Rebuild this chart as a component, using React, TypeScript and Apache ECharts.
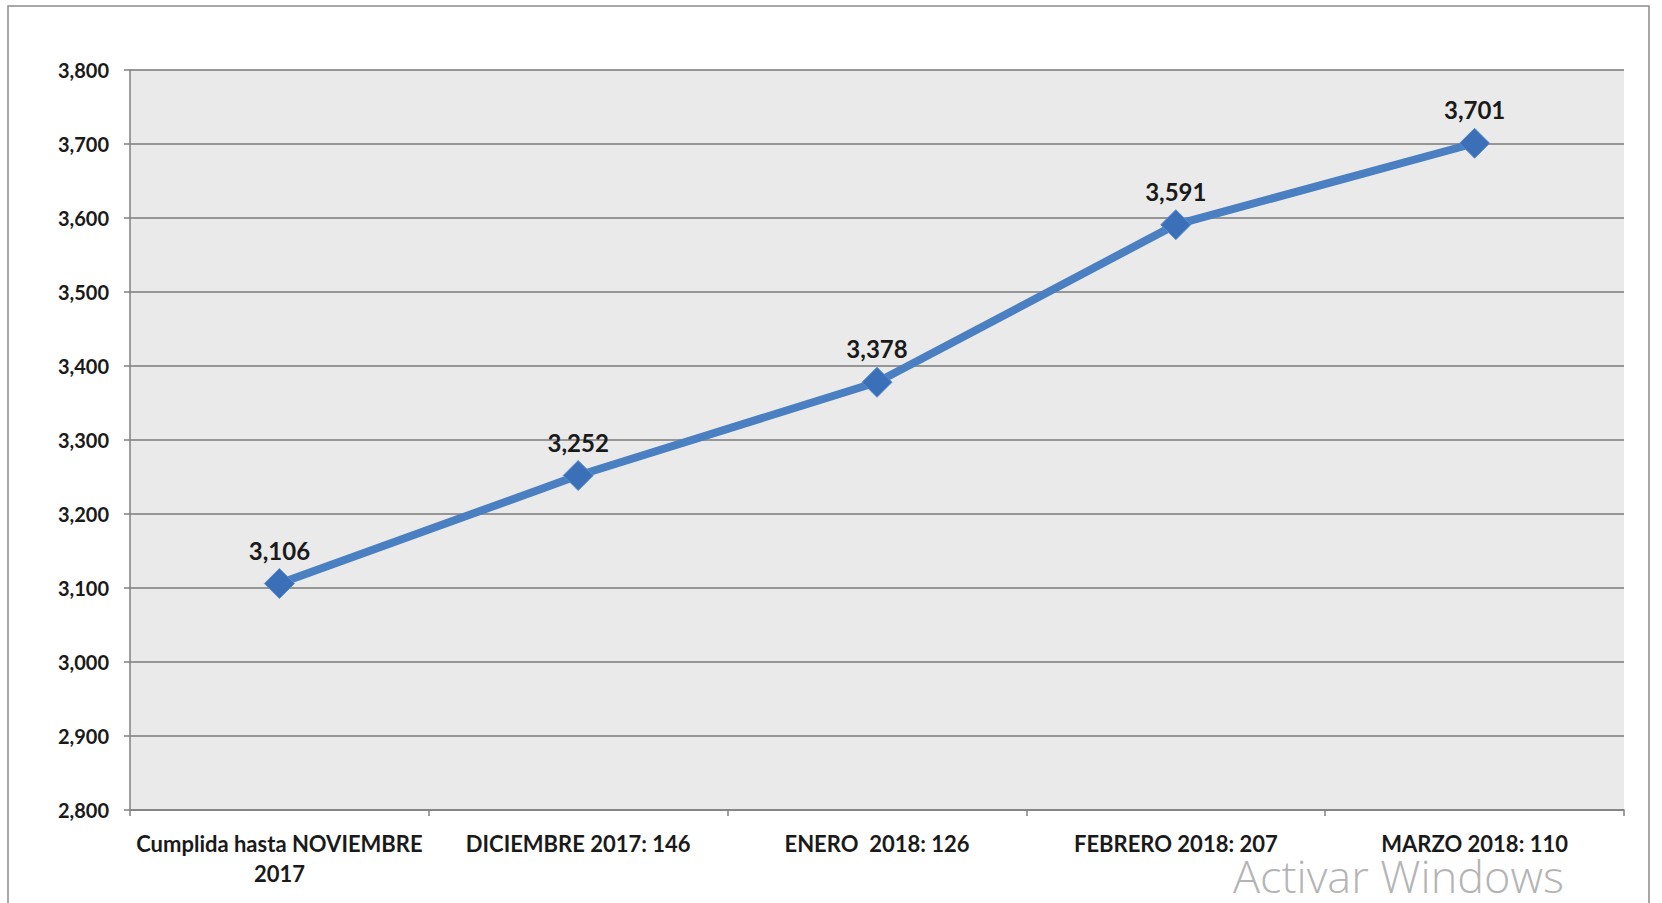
import React, { useEffect, useRef } from "react";
import * as echarts from "echarts";

const categories = [
  "Cumplida hasta NOVIEMBRE\n2017",
  "DICIEMBRE 2017: 146",
  "ENERO  2018: 126",
  "FEBRERO 2018: 207",
  "MARZO 2018: 110",
];
const values = [3106, 3252, 3378, 3591, 3701];
const yMin = 2800;
const yMax = 3800;
const yStep = 100;
const watermark = "Activar Windows";

const fmt = (v: number) => v.toLocaleString("en-US");

export default function App() {
  const ref = useRef<HTMLDivElement>(null);
  useEffect(() => {
    if (!ref.current) return;
    const chart = echarts.init(ref.current, undefined, { renderer: "svg" });
    chart.setOption({
      animation: false,
      backgroundColor: "#ffffff",
      grid: {
        left: 130,
        right: 38,
        top: 70,
        bottom: 93,
        show: true,
        backgroundColor: "#eaeaea",
        borderWidth: 0,
      },
      graphic: [
        {
          type: "rect",
          shape: { x: 8, y: 6, width: 1641, height: 910 },
          style: { fill: "none", stroke: "#8c8c8c", lineWidth: 1.5 },
          silent: true,
        },
        {
          type: "text",
          left: 1233,
          top: 853,
          style: {
            text: watermark,
            fill: "#b4b4b4",
            font: "300 45px 'Open Sans', sans-serif",
          },
          silent: true,
        },
      ],
      xAxis: {
        type: "category",
        data: categories,
        boundaryGap: true,
        axisLine: { show: true, lineStyle: { color: "#808080", width: 1.5 } },
        axisTick: { show: true, length: 6, lineStyle: { color: "#808080", width: 1.5 } },
        axisLabel: {
          color: "#1a1a1a",
          fontFamily: "Lato, sans-serif",
          fontWeight: "bold",
          fontSize: 22,
          lineHeight: 30,
          margin: 18,
          interval: 0,
        },
        splitLine: { show: false },
      },
      yAxis: {
        type: "value",
        min: yMin,
        max: yMax,
        interval: yStep,
        axisLine: { show: true, lineStyle: { color: "#808080", width: 1.5 } },
        axisTick: { show: true, length: 6, lineStyle: { color: "#808080", width: 1.5 } },
        axisLabel: {
          color: "#1a1a1a",
          fontFamily: "Lato, sans-serif",
          fontWeight: "bold",
          fontSize: 20,
          margin: 21,
          formatter: (v: number) => fmt(v),
        },
        splitLine: { show: true, lineStyle: { color: "#7a7a7a", width: 1.5 } },
      },
      series: [
        {
          type: "line",
          data: values,
          symbol: "diamond",
          symbolSize: 30,
          lineStyle: { color: "#4a7fc2", width: 8 },
          itemStyle: { color: "#3b70b9", borderColor: "#5a8fd2", borderWidth: 1 },
          label: {
            show: true,
            position: "top",
            distance: 6,
            color: "#1a1a1a",
            fontFamily: "Lato, sans-serif",
            fontWeight: "bold",
            fontSize: 24,
            formatter: (p: any) => fmt(p.value),
          },
        },
      ],
    });
    return () => chart.dispose();
  }, []);
  return (
    <div
      ref={ref}
      style={{ position: "fixed", left: 0, top: 0, width: 1662, height: 903 }}
    />
  );
}
